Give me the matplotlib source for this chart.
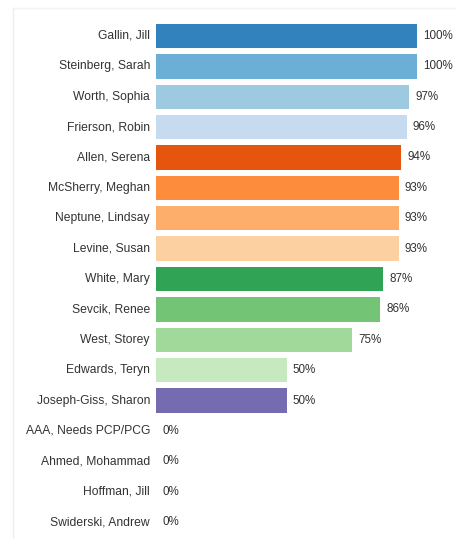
import matplotlib
matplotlib.use("Agg")
from matplotlib import pyplot as plt
from matplotlib.lines import Line2D

# Namn och andel (%) uppifrån och ned
names = ["Gallin, Jill", "Steinberg, Sarah", "Worth, Sophia", "Frierson, Robin",
         "Allen, Serena", "McSherry, Meghan", "Neptune, Lindsay", "Levine, Susan",
         "White, Mary", "Sevcik, Renee", "West, Storey", "Edwards, Teryn",
         "Joseph-Giss, Sharon", "AAA, Needs PCP/PCG", "Ahmed, Mohammad",
         "Hoffman, Jill", "Swiderski, Andrew"]
values = [100, 100, 97, 96, 94, 93, 93, 93, 87, 86, 75, 50, 50, 0, 0, 0, 0]
colors = ["#3182bd", "#6baed6", "#9ecae1", "#c6dbef",
          "#e6550d", "#fd8d3c", "#fdae6b", "#fdd0a2",
          "#31a354", "#74c476", "#a1d99b", "#c7e9c0",
          "#756bb1", "#756bb1", "#756bb1", "#756bb1", "#756bb1"]

plt.rcParams["font.family"] = ["Liberation Sans", "DejaVu Sans"]
txt_color = "#333333"

fig = plt.figure(figsize=(4.62, 5.39), dpi=100)
ax = fig.add_axes([156 / 462, 1 - 537.2 / 539, (417 - 156) / 462, (537.2 - 20.8) / 539])

y = list(range(len(names)))
ax.barh(y, values, height=0.8, color=colors)
ax.set_xlim(0, 100)
ax.set_ylim(len(names) - 0.5, -0.5)

for i, (n, v) in enumerate(zip(names, values)):
    ax.text(-2.3, i, n, ha="right", va="center", fontsize=8.7, color=txt_color, clip_on=False)
    ax.text(v + 2.4, i, f"{v}%", ha="left", va="center", fontsize=8.4, color=txt_color, clip_on=False)

ax.axis("off")

# Svag ram runt diagrammet
fig.add_artist(Line2D([13 / 462, 13 / 462], [1 - 8 / 539, 0], color="#eeeeee", lw=1))
fig.add_artist(Line2D([13 / 462, 455 / 462], [1 - 8 / 539, 1 - 8 / 539], color="#f3f3f3", lw=1))

fig.savefig("out.png", dpi=100)
